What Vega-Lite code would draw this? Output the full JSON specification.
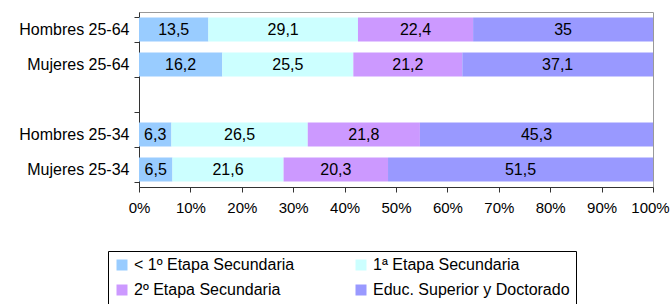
{
  "$schema": "https://vega.github.io/schema/vega-lite/v6.json",
  "width": 514,
  "height": 175,
  "autosize": {"type": "none"},
  "padding": {"left": 139, "top": 12, "right": 18, "bottom": 117},
  "background": "white",
  "config": {
    "locale": {"number": {"decimal": ",", "thousands": ".", "grouping": [3], "currency": ["", " €"]}},
    "font": "Liberation Sans",
    "view": {"stroke": "#999999"}
  },
  "data": {
    "values": [
      {"grupo": "Hombres 25-64", "nivel": "< 1º Etapa Secundaria", "orden": 1, "valor": 13.5},
      {"grupo": "Hombres 25-64", "nivel": "1ª Etapa Secundaria", "orden": 2, "valor": 29.1},
      {"grupo": "Hombres 25-64", "nivel": "2º Etapa Secundaria", "orden": 3, "valor": 22.4},
      {"grupo": "Hombres 25-64", "nivel": "Educ. Superior y Doctorado", "orden": 4, "valor": 35},
      {"grupo": "Mujeres 25-64", "nivel": "< 1º Etapa Secundaria", "orden": 1, "valor": 16.2},
      {"grupo": "Mujeres 25-64", "nivel": "1ª Etapa Secundaria", "orden": 2, "valor": 25.5},
      {"grupo": "Mujeres 25-64", "nivel": "2º Etapa Secundaria", "orden": 3, "valor": 21.2},
      {"grupo": "Mujeres 25-64", "nivel": "Educ. Superior y Doctorado", "orden": 4, "valor": 37.1},
      {"grupo": "Hombres 25-34", "nivel": "< 1º Etapa Secundaria", "orden": 1, "valor": 6.3},
      {"grupo": "Hombres 25-34", "nivel": "1ª Etapa Secundaria", "orden": 2, "valor": 26.5},
      {"grupo": "Hombres 25-34", "nivel": "2º Etapa Secundaria", "orden": 3, "valor": 21.8},
      {"grupo": "Hombres 25-34", "nivel": "Educ. Superior y Doctorado", "orden": 4, "valor": 45.3},
      {"grupo": "Mujeres 25-34", "nivel": "< 1º Etapa Secundaria", "orden": 1, "valor": 6.5},
      {"grupo": "Mujeres 25-34", "nivel": "1ª Etapa Secundaria", "orden": 2, "valor": 21.6},
      {"grupo": "Mujeres 25-34", "nivel": "2º Etapa Secundaria", "orden": 3, "valor": 20.3},
      {"grupo": "Mujeres 25-34", "nivel": "Educ. Superior y Doctorado", "orden": 4, "valor": 51.5}
    ]
  },
  "transform": [
    {"stack": "valor", "groupby": ["grupo"], "sort": [{"field": "orden", "order": "ascending"}], "offset": "normalize", "as": ["x0", "x1"]},
    {"calculate": "(datum.x0 + datum.x1) / 2", "as": "xm"}
  ],
  "encoding": {
    "y": {
      "field": "grupo",
      "type": "nominal",
      "title": null,
      "scale": {"domain": ["Hombres 25-64", "Mujeres 25-64", " ", "Hombres 25-34", "Mujeres 25-34"], "paddingInner": 0.314, "paddingOuter": 0.157},
      "axis": {"tickBand": "extent", "tickSize": 5, "labelPadding": 5, "labelFontSize": 16, "labelColor": "black", "domainColor": "#333333", "tickColor": "#333333"}
    }
  },
  "layer": [
    {
      "mark": {"type": "bar"},
      "encoding": {
        "x": {
          "field": "x0",
          "type": "quantitative",
          "title": null,
          "scale": {"domain": [0, 1], "nice": false},
          "axis": {"format": "%", "values": [0, 0.1, 0.2, 0.3, 0.4, 0.5, 0.6, 0.7, 0.8, 0.9, 1], "grid": false, "tickSize": 5, "labelPadding": 8, "labelFontSize": 15, "labelColor": "black", "labelFlush": false, "labelOffset": {"condition": {"test": "datum.value == 1", "value": -3}, "value": 0}, "domainColor": "#333333", "tickColor": "#333333"}
        },
        "x2": {"field": "x1"},
        "color": {
          "field": "nivel",
          "type": "nominal",
          "scale": {
            "domain": ["< 1º Etapa Secundaria", "1ª Etapa Secundaria", "2º Etapa Secundaria", "Educ. Superior y Doctorado"],
            "range": ["#99CCFF", "#CCFFFF", "#CC99FF", "#9999FF"]
          },
          "legend": {
            "title": null,
            "orient": "none",
            "direction": "horizontal",
            "legendX": -31,
            "legendY": 239,
            "columns": 2,
            "strokeColor": "black",
            "padding": 6,
            "symbolType": "square",
            "symbolSize": 121,
            "symbolStrokeWidth": 0,
            "symbolOpacity": 1,
            "labelFontSize": 16,
            "labelColor": "black",
            "labelOffset": 4,
            "labelLimit": 300,
            "columnPadding": 58,
            "rowPadding": 9
          }
        }
      }
    },
    {
      "mark": {"type": "text", "fontSize": 16, "color": "black"},
      "encoding": {
        "x": {"field": "xm", "type": "quantitative"},
        "text": {"field": "valor", "type": "quantitative", "format": ".1~f"}
      }
    }
  ]
}
